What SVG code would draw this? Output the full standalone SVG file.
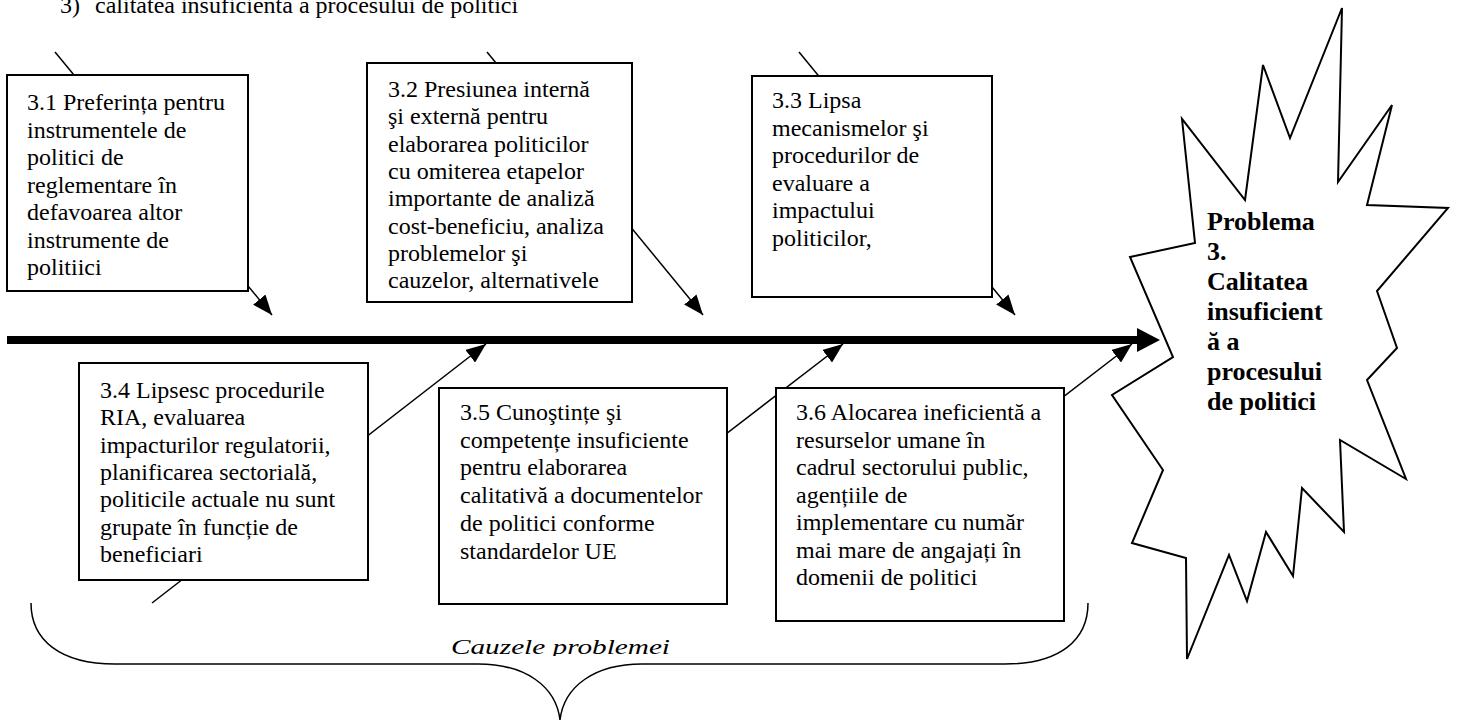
<svg xmlns="http://www.w3.org/2000/svg" width="1457" height="720" viewBox="0 0 1457 720">
  <style>
    .box { fill: #fff; stroke: #000; stroke-width: 2; }
    .txt { font-family: "Liberation Serif", "Times New Roman", serif; font-size: 24px; fill: #000; }
    .bold { font-family: "Liberation Serif", "Times New Roman", serif; font-size: 26px; font-weight: bold; fill: #000; }
    .link { fill: none; stroke: #000; stroke-width: 1.5; }
    .spine { fill: none; stroke: #000; stroke-width: 8; }
  </style>
  <defs>
    <marker id="arrow" viewBox="0 0 20 16" refX="20" refY="8" markerWidth="20" markerHeight="16" markerUnits="userSpaceOnUse" orient="auto">
      <path d="M0,0 L20,8 L0,16 z" fill="#000"/>
    </marker>
    <clipPath id="clip32"><rect x="367" y="63" width="265" height="229"/></clipPath>
    <clipPath id="clipCauze"><rect x="400" y="600" width="320" height="56"/></clipPath>
  </defs>

  <!-- heading, partly cut off at the top edge -->
  <g id="title">
    <text class="txt" x="60" y="13">3)</text>
    <text class="txt" x="95" y="13">calitatea insuficientă a procesului de politici</text>
  </g>

  <!-- connectors: main spine and cause arrows -->
  <g id="connectors">
    <line class="spine" x1="7" y1="340" x2="1138" y2="340"/>
    <path d="M1137,328 L1160,340 L1137,352 z" fill="#000"/>
    <line class="link" x1="55" y1="52" x2="272" y2="315" marker-end="url(#arrow)"/>
    <line class="link" x1="487" y1="52" x2="703" y2="315" marker-end="url(#arrow)"/>
    <line class="link" x1="799" y1="52" x2="1015" y2="315" marker-end="url(#arrow)"/>
    <line class="link" x1="152" y1="603" x2="486" y2="344" marker-end="url(#arrow)"/>
    <line class="link" x1="687" y1="464" x2="843" y2="344" marker-end="url(#arrow)"/>
    <line class="link" x1="1002" y1="444" x2="1132" y2="344" marker-end="url(#arrow)"/>
  </g>

  <g id="cause-3-1">
    <rect class="box" x="7" y="75" width="241" height="216"/>
    <text class="txt">
      <tspan x="27" y="110">3.1 Preferința pentru</tspan>
      <tspan x="27" y="137.5">instrumentele de</tspan>
      <tspan x="27" y="165">politici de</tspan>
      <tspan x="27" y="192.5">reglementare în</tspan>
      <tspan x="27" y="220">defavoarea altor</tspan>
      <tspan x="27" y="247.5">instrumente de</tspan>
      <tspan x="27" y="275">politiici</tspan>
    </text>
  </g>

  <g id="cause-3-2">
    <rect class="box" x="367" y="63" width="265" height="239"/>
    <text class="txt" clip-path="url(#clip32)">
      <tspan x="388" y="97">3.2 Presiunea internă</tspan>
      <tspan x="388" y="124.3">şi externă pentru</tspan>
      <tspan x="388" y="151.6">elaborarea politicilor</tspan>
      <tspan x="388" y="178.9">cu omiterea etapelor</tspan>
      <tspan x="388" y="206.2">importante de analiză</tspan>
      <tspan x="388" y="233.5">cost-beneficiu, analiza</tspan>
      <tspan x="388" y="260.8">problemelor şi</tspan>
      <tspan x="388" y="288.1">cauzelor, alternativele</tspan>
    </text>
  </g>

  <g id="cause-3-3">
    <rect class="box" x="752" y="76" width="240" height="221"/>
    <text class="txt">
      <tspan x="772" y="108">3.3 Lipsa</tspan>
      <tspan x="772" y="135.5">mecanismelor şi</tspan>
      <tspan x="772" y="163">procedurilor de</tspan>
      <tspan x="772" y="190.5">evaluare a</tspan>
      <tspan x="772" y="218">impactului</tspan>
      <tspan x="772" y="245.5">politicilor,</tspan>
    </text>
  </g>

  <g id="cause-3-4">
    <rect class="box" x="79" y="363" width="289" height="217"/>
    <text class="txt">
      <tspan x="100" y="398">3.4 Lipsesc procedurile</tspan>
      <tspan x="100" y="425.3">RIA, evaluarea</tspan>
      <tspan x="100" y="452.6">impacturilor regulatorii,</tspan>
      <tspan x="100" y="479.9">planificarea sectorială,</tspan>
      <tspan x="100" y="507.2">politicile actuale nu sunt</tspan>
      <tspan x="100" y="534.5">grupate în funcție de</tspan>
      <tspan x="100" y="561.8">beneficiari</tspan>
    </text>
  </g>

  <g id="cause-3-5">
    <rect class="box" x="439" y="388" width="288" height="216"/>
    <text class="txt">
      <tspan x="460" y="420">3.5 Cunoştințe şi</tspan>
      <tspan x="460" y="447.7">competențe insuficiente</tspan>
      <tspan x="460" y="475.4">pentru elaborarea</tspan>
      <tspan x="460" y="503.1">calitativă a documentelor</tspan>
      <tspan x="460" y="530.8">de politici conforme</tspan>
      <tspan x="460" y="558.5">standardelor UE</tspan>
    </text>
  </g>

  <g id="cause-3-6">
    <rect class="box" x="776" y="388" width="288" height="233"/>
    <text class="txt">
      <tspan x="796" y="420">3.6 Alocarea ineficientă a</tspan>
      <tspan x="796" y="447.5">resurselor umane în</tspan>
      <tspan x="796" y="475">cadrul sectorului public,</tspan>
      <tspan x="796" y="502.5">agențiile de</tspan>
      <tspan x="796" y="530">implementare cu număr</tspan>
      <tspan x="796" y="557.5">mai mare de angajați în</tspan>
      <tspan x="796" y="585">domenii de politici</tspan>
    </text>
  </g>

  <!-- problem burst -->
  <g id="problem">
    <polygon fill="#fff" stroke="#000" stroke-width="2" stroke-linejoin="miter"
      points="1342,8 1338,182 1392,105 1367,205 1448,208 1377,291 1397,348 1367,380 1406,479 1340,440 1344,532 1302,488 1293,576 1266,532 1247,601 1229,555 1187,659 1186,558 1132,543 1163,470 1112,395 1173,357 1130,257 1195,243 1182,119 1245,200 1263,65 1290,138"/>
    <text class="bold">
      <tspan x="1207" y="230">Problema</tspan>
      <tspan x="1207" y="260">3.</tspan>
      <tspan x="1207" y="290">Calitatea</tspan>
      <tspan x="1207" y="320">insuficient</tspan>
      <tspan x="1207" y="350">ă a</tspan>
      <tspan x="1207" y="380">procesului</tspan>
      <tspan x="1207" y="410">de politici</tspan>
    </text>
  </g>

  <!-- brace grouping the causes -->
  <g id="causes-brace">
    <path class="link" d="M31,603 C31,640 60,664 115,664 L478,664 C525,664 556,686 560,720 C564,686 595,664 642,664 L1005,664 C1060,664 1088,640 1088,603"/>
    <text clip-path="url(#clipCauze)" x="451" y="654" font-family="Liberation Serif, Times New Roman, serif" font-style="italic" font-size="22" textLength="219" lengthAdjust="spacingAndGlyphs">Cauzele problemei</text>
  </g>
</svg>
